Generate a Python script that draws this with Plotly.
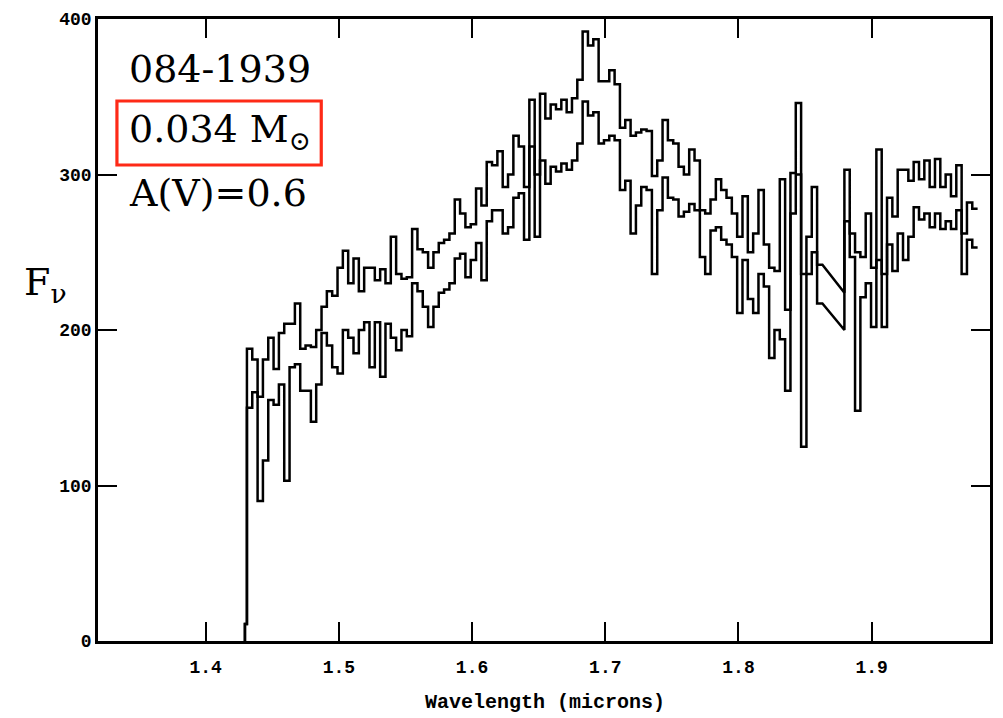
import plotly.graph_objects as go

# Spectral flux density (F_nu) in 0.004-micron bins, two spectra.
bin_width = 0.004
seg_a_start = 1.431          # first bin edge after the onset
seg_b_start = 1.8795         # first bin edge after the water-band gap

onset_x = [1.4295, 1.4295, 1.431]
onset_f = [0, 11, 11]

upper_a = [188, 181, 157, 181, 195, 175, 198, 204, 204, 217,
           188, 190, 189, 200, 215, 225, 222, 240, 251, 230,
           246, 225, 240, 240, 232, 239, 230, 260, 236, 233,
           234, 265, 252, 250, 240, 250, 256, 258, 262, 284,
           275, 266, 268, 291, 280, 308, 306, 315, 292, 300,
           325, 318, 292, 348, 300, 352, 336, 345, 342, 348,
           340, 349, 361, 392, 383, 387, 360, 360, 367, 358,
           330, 335, 325, 327, 329, 328, 299, 309, 335, 322,
           320, 305, 300, 316, 309, 277, 275, 284, 297, 290,
           285, 275, 260, 286, 250, 262, 290, 255, 240, 238,
           297, 213, 301, 346, 236, 260, 292, 242]

lower_a = [150, 160, 90, 116, 155, 152, 165, 103, 176, 178,
           161, 161, 141, 165, 198, 190, 176, 172, 200, 195,
           185, 200, 205, 176, 205, 170, 204, 195, 187, 200,
           196, 230, 225, 215, 202, 215, 224, 226, 230, 246,
           249, 234, 245, 256, 232, 270, 277, 277, 262, 266,
           285, 288, 258, 318, 260, 309, 294, 305, 302, 307,
           303, 309, 320, 347, 338, 340, 320, 322, 325, 322,
           290, 296, 262, 280, 292, 290, 236, 277, 298, 285,
           284, 273, 276, 281, 277, 247, 236, 264, 266, 258,
           255, 247, 211, 245, 220, 211, 236, 228, 182, 200,
           194, 161, 275, 300, 125, 236, 250, 217]

# straight interpolation across the telluric gap
gap_x = [1.863, 1.8795]
upper_gap = [242, 224]
lower_gap = [217, 200]

upper_b = [303, 262, 250, 247, 275, 240, 316, 236, 285, 273,
           303, 303, 296, 308, 297, 309, 292, 310, 292, 300,
           286, 306, 262, 282, 278]
lower_b = [270, 247, 148, 221, 230, 202, 245, 202, 255, 238,
           262, 245, 260, 279, 271, 275, 266, 275, 265, 270,
           265, 277, 236, 258, 253]

x_ticks = [1.4, 1.5, 1.6, 1.7, 1.8, 1.9]
y_ticks = [0, 100, 200, 300, 400]


def steps(start, values):
    xs, ys = [], []
    for k, v in enumerate(values):
        x0 = start + k * bin_width
        xs += [x0, x0 + bin_width]
        ys += [v, v]
    return xs, ys


def spectrum(seg_a, gap_f, seg_b):
    xa, ya = steps(seg_a_start, seg_a)
    xb, yb = steps(seg_b_start, seg_b)
    xs = onset_x + xa + gap_x + xb
    ys = onset_f + ya + gap_f + yb
    return xs, ys


fig = go.Figure()
for seg_a, gap_f, seg_b in [(upper_a, upper_gap, upper_b),
                            (lower_a, lower_gap, lower_b)]:
    xs, ys = spectrum(seg_a, gap_f, seg_b)
    fig.add_trace(go.Scatter(x=xs, y=ys, mode="lines",
                             line=dict(color="black", width=2.5),
                             showlegend=False, hoverinfo="skip"))

tick_font = dict(family="Liberation Mono", size=18, color="black", weight="bold")
axis_common = dict(showline=True, linecolor="black", linewidth=2.5,
                   mirror="ticks", ticks="inside", ticklen=19, tickwidth=2,
                   tickcolor="black", showgrid=False, zeroline=False,
                   tickfont=tick_font)

fig.update_xaxes(range=[1.3192, 1.9888], tickvals=x_ticks,
                 ticktext=[f"{t:.1f}" for t in x_ticks],
                 ticklabelstandoff=8, **axis_common)
fig.update_yaxes(range=[0, 400], tickvals=y_ticks,
                 ticktext=[str(t) for t in y_ticks], **axis_common)

serif = "DejaVu Serif"
labels = [("084-1939", 69), ("0.034 M<sub>⊙</sub>", 131), ("A(V)=0.6", 193)]
for text, ypx in labels:
    fig.add_annotation(xref="paper", yref="paper", x=(127 - 98) / 895,
                       y=(641 - ypx) / 622, xanchor="left", yanchor="middle",
                       text=text, showarrow=False,
                       font=dict(family=serif, size=38, color="black"))

# highlight box around the mass label
fig.add_shape(type="rect", xref="paper", yref="paper",
              x0=(117 - 98) / 895, x1=(322 - 98) / 895,
              y0=(641 - 165) / 622, y1=(641 - 101) / 622,
              line=dict(color="#fe2a17", width=3.2))

fig.add_annotation(xref="paper", yref="paper", x=(45 - 98) / 895,
                   y=(641 - 285) / 622, xanchor="center", yanchor="middle",
                   text="F<sub>ν</sub>", showarrow=False,
                   font=dict(family=serif, size=38, color="black"))

fig.add_annotation(xref="paper", yref="paper", x=(547 - 98) / 895,
                   y=(641 - 702) / 622, xanchor="center", yanchor="middle",
                   text="Wavelength (microns)", showarrow=False,
                   font=dict(family="Liberation Mono", size=20, color="black",
                             weight="bold"))

fig.update_layout(width=1003, height=718, paper_bgcolor="white",
                  plot_bgcolor="white",
                  margin=dict(l=98, r=10, t=19, b=77))

fig.write_html("out.html")
